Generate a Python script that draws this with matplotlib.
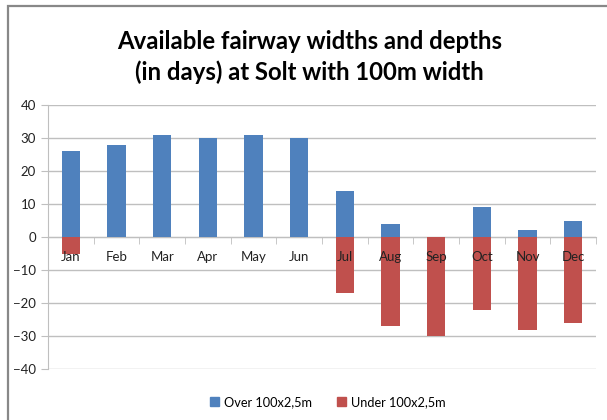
import numpy as np
import matplotlib.pyplot as plt
from matplotlib.patches import Rectangle, Patch

plt.rcParams['font.family'] = ['Lato', 'DejaVu Sans']

months = ["Jan", "Feb", "Mar", "Apr", "May", "Jun",
          "Jul", "Aug", "Sep", "Oct", "Nov", "Dec"]
over = [26, 28, 31, 30, 31, 30, 14, 4, 0, 9, 2, 5]
under = [-5, 0, 0, 0, 0, 0, -17, -27, -30, -22, -28, -26]
yticks = [-40, -30, -20, -10, 0, 10, 20, 30, 40]

blue = "#4F81BD"
red = "#C0504D"

fig = plt.figure(figsize=(6.07, 4.2), dpi=100)
ax = fig.add_axes([0.079, 0.121, 0.903, 0.629])

x = np.arange(len(months))
ax.bar(x, over, width=0.4, color=blue, zorder=2)
ax.bar(x, under, width=0.4, color=red, zorder=2)

ax.set_xlim(-0.5, len(months) - 0.5)
ax.set_ylim(-40, 40)
ax.set_yticks(yticks)
ax.yaxis.grid(True, color="#BFBFBF", linewidth=1.0, zorder=0)
ax.set_axisbelow(True)

for s in ["top", "right"]:
    ax.spines[s].set_visible(False)
ax.spines["left"].set_color("#BFBFBF")
ax.spines["bottom"].set_position(("data", 0))
ax.spines["bottom"].set_color("#BFBFBF")
ax.spines["bottom"].set_zorder(1)

ax.set_xticks(x)
ax.set_xticklabels(months)
ax.set_xticks(np.arange(-0.5, len(months)), minor=True)
ax.tick_params(axis="x", which="major", length=0, pad=10, labelsize=9.5, labelcolor="#222222")
ax.tick_params(axis="x", which="minor", length=5, color="#BFBFBF")
ax.tick_params(axis="y", length=5, color="#BFBFBF", labelsize=9.5, labelcolor="#222222")
ax.xaxis.set_zorder(3)

fig.text(0.51, 0.864, "Available fairway widths and depths\n(in days) at Solt with 100m width",
         ha="center", va="center", fontsize=17.2, fontweight="bold", linespacing=1.4)

handles = [Patch(color=blue, label="Over 100x2,5m"), Patch(color=red, label="Under 100x2,5m")]
fig.legend(handles=handles, loc="center", bbox_to_anchor=(0.54, 0.043), ncol=2,
           frameon=False, fontsize=9.2, handlelength=0.7, handleheight=0.7,
           handletextpad=0.4, columnspacing=2.0)

fig.patches.append(Rectangle((7.5 / 607, -0.1), 1.2, 1.1 - 6.5 / 420,
                             transform=fig.transFigure, fill=False,
                             edgecolor="#888888", linewidth=1.6))

fig.savefig("out.png", dpi=100)
